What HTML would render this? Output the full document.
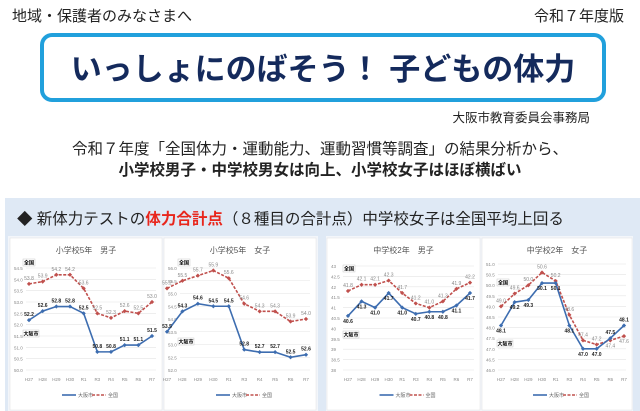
<!DOCTYPE html>
<html><head><meta charset="utf-8">
<style>
body{margin:0;width:640px;height:411px;background:#fff;overflow:hidden;position:relative;font-family:"Liberation Sans","Noto Sans CJK JP",sans-serif;color:#222}
.a{position:absolute;white-space:nowrap}
</style></head><body>
<div class="a" style="left:12px;top:5px;font-size:15px">地域・保護者のみなさまへ</div>
<div class="a" style="right:16px;top:5px;font-size:15px">令和７年度版</div>
<div class="a" style="left:40px;top:33px;width:558px;height:61px;border:4px solid #21a0dc;border-radius:12px"></div>
<div class="a" style="left:44px;top:44px;width:558px;text-align:center;font-size:31px;font-weight:bold;color:#142a5c;letter-spacing:0px">いっしょにのばそう！ 子どもの体力</div>
<div class="a" style="right:50px;top:107px;font-size:12.5px">大阪市教育委員会事務局</div>
<div class="a" style="left:0;width:640px;top:137px;text-align:center;font-size:15.5px">令和７年度「全国体力・運動能力、運動習慣等調査」の結果分析から、</div>
<div class="a" style="left:0;width:640px;top:158px;text-align:center;font-size:15.5px;font-weight:bold">小学校男子・中学校男女は向上、小学校女子はほぼ横ばい</div>
<div class="a" style="left:5px;top:198px;width:635px;height:213px;background:#dfe9f5"></div>
<div class="a" style="left:17px;top:207px;font-size:15.5px">◆ 新体力テストの<b style="color:#e8261c">体力合計点</b>（８種目の合計点）中学校女子は全国平均上回る</div>
<svg class="a" style="left:0;top:0" width="640" height="411" id="s"></svg>
<script>
var s=document.getElementById('s'),h='';
h+='<rect x="8" y="236" width="310" height="175" fill="#f3f6fa"/><rect x="326" y="236" width="307" height="175" fill="#f3f6fa"/>';
var X=['H27','H28','H29','H30','R1','R3','R4','R5','R6','R7'];
function ch(c){
 h+='<rect x="'+c.bx+'" y="238" width="'+c.bw+'" height="172" fill="#fff" stroke="#e0e0e0" stroke-width="0.5"/>';
 h+='<text x="'+(c.bx+c.bw/2)+'" y="253" font-size="8" text-anchor="middle" fill="#555">'+c.t+'</text>';
 var n=Math.round((c.ymax-c.ymin)/0.5);
 function Y(v){return c.yt+(c.ymax-v)/(c.ymax-c.ymin)*(c.yb-c.yt)}
 function Xp(i){return c.x0+i*(c.x1-c.x0)/9}
 for(var k=0;k<=n;k++){var v=c.ymax-k*0.5,y=Y(v);
  h+='<line x1="'+(c.bx+16)+'" x2="'+(c.bx+c.bw-6)+'" y1="'+y+'" y2="'+y+'" stroke="#e4e4e4" stroke-width="0.6"/>';
  h+='<text x="'+(c.bx+4)+'" y="'+(y+2)+'" font-size="4.5" fill="#888">'+(c.int?String(v):v.toFixed(1))+'</text>';}
 for(var i=0;i<10;i++)h+='<text x="'+Xp(i)+'" y="381" font-size="4.5" fill="#888" text-anchor="middle">'+X[i]+'</text>';
 function line(d,col,dash,lab,bold){var p=d.map(function(v,i){return Xp(i)+','+Y(v)}).join(' ');
  h+='<polyline points="'+p+'" fill="none" stroke="'+col+'" stroke-width="1.6" '+(dash?'stroke-dasharray="3,1.5"':'')+'/>';
  d.forEach(function(v,i){var x=Xp(i),y=Y(v);h+='<rect x="'+(x-1.5)+'" y="'+(y-1.5)+'" width="3" height="3" fill="'+col+'" transform="rotate(45 '+x+' '+y+')"/>';
   var o=lab[i];h+='<text x="'+x+'" y="'+(y+o)+'" font-size="5" text-anchor="middle" fill="'+(bold?'#222':'#888')+'" '+(bold?'font-weight="bold"':'')+'>'+v.toFixed(1)+'</text>';});}
 line(c.n,'#c0504d',1,c.nl,0);line(c.o,'#3d6db0',0,c.ol,1);
 h+='<rect x="'+c.gx+'" y="'+c.gy+'" width="12" height="7" fill="#fff" stroke="#bbb" stroke-width="0.4"/><text x="'+(c.gx+6)+'" y="'+(c.gy+5.5)+'" font-size="5" text-anchor="middle" font-weight="bold">全国</text>';
 h+='<rect x="'+c.ox+'" y="'+c.oy+'" width="16" height="7" fill="#fff" stroke="#bbb" stroke-width="0.4"/><text x="'+(c.ox+8)+'" y="'+(c.oy+5.5)+'" font-size="5" text-anchor="middle" font-weight="bold">大阪市</text>';
 var lx=c.bx+c.bw/2-24;
 h+='<line x1="'+lx+'" x2="'+(lx+14)+'" y1="395" y2="395" stroke="#3d6db0" stroke-width="1.6"/><text x="'+(lx+16)+'" y="397" font-size="5" fill="#666">大阪市</text>';
 h+='<line x1="'+(lx+30)+'" x2="'+(lx+44)+'" y1="395" y2="395" stroke="#c0504d" stroke-width="1.6" stroke-dasharray="3,1.5"/><text x="'+(lx+46)+'" y="397" font-size="5" fill="#666">全国</text>';
}
var up=[-4,-4,-4,-4,-4,-4,-4,-4,-4,-4],dn=[7,7,7,7,7,7,7,7,7,7];
ch({bx:10,bw:152,t:'小学校5年　男子',x0:29,x1:152,yt:268,yb:370,ymin:50,ymax:54.5,
 o:[52.2,52.6,52.8,52.8,52.5,50.8,50.8,51.1,51.1,51.5],n:[53.8,53.9,54.2,54.2,53.6,52.5,52.3,52.6,52.5,53.0],ol:up,nl:up,gx:23,gy:259,ox:23,oy:330});
ch({bx:164,bw:152,t:'小学校5年　女子',x0:167,x1:306,yt:268,yb:370,ymin:52,ymax:56,
 o:[53.5,54.3,54.6,54.5,54.5,52.8,52.7,52.7,52.5,52.6],n:[55.2,55.5,55.7,55.9,55.6,54.6,54.3,54.3,53.9,54.0],ol:up,nl:up,gx:178,gy:259,ox:178,oy:338});
ch({bx:327,bw:153,t:'中学校2年　男子',x0:348,x1:470,yt:266,yb:370,ymin:38,ymax:43,int:1,
 o:[40.6,41.3,41.0,41.7,41.0,40.7,40.8,40.8,41.1,41.7],n:[41.8,42.1,42.1,42.3,41.7,41.2,41.0,41.3,41.9,42.2],ol:dn,nl:up,gx:343,gy:265,ox:343,oy:331});
ch({bx:482,bw:150,t:'中学校2年　女子',x0:501,x1:624,yt:264,yb:370,ymin:46,ymax:51,
 o:[48.1,49.2,49.3,50.1,50.1,48.1,47.0,47.0,47.5,48.1],n:[49.0,49.6,50.0,50.6,50.2,48.6,47.4,47.2,47.4,47.6],ol:[7,7,7,7,7,7,7,7,-4,-4],nl:[-4,-4,-4,-4,-4,-4,-4,-4,7,7],gx:497,gy:279,ox:497,oy:340});
s.innerHTML=h;
</script>
</body></html>
